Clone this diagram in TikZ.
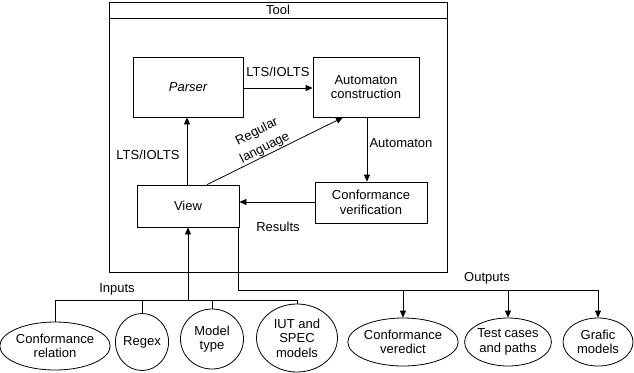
\documentclass[tikz,border=0pt]{standalone}
\usepackage{fontspec}
\setmainfont{Liberation Sans}
\usetikzlibrary{shapes.geometric,arrows.meta}
\begin{document}
\begin{tikzpicture}[x=1pt,y=-1pt,
  every node/.style={font=\fontsize{13}{14.5}\selectfont, inner sep=0pt},
  box/.style={draw, line width=0.8pt, align=center},
  oval/.style={draw, ellipse, line width=0.8pt, align=center},
  line/.style={line width=0.8pt},
  arr/.style={line width=0.8pt, -{Triangle[length=7pt,width=6pt]}},
  lbl/.style={align=center}]
\useasboundingbox (0,0) rectangle (634,372);
% Tool frame
\draw[line] (109,2) rectangle (447,272);
\draw[line] (109,18) -- (447,18);
\node[lbl] (tool) at (278,10) {Tool};
% boxes
\node[box, minimum width=110pt, minimum height=60pt] (parser) at (188,87) {\itshape Parser};
\node[box, minimum width=106pt, minimum height=60pt] (auto) at (366,87) {Automaton\\construction};
\node[box, minimum width=102pt, minimum height=42pt] (view) at (188,206) {View};
\node[box, minimum width=112pt, minimum height=41pt] (conf) at (371,202.5) {Conformance\\verification};
% arrows
\draw[arr] (parser.east |- 0,88) -- (auto.west |- 0,88);
\node[lbl] (l1) at (278,72) {LTS/IOLTS};
\draw[arr] (view.north -| 187,0) -- (parser.south -| 187,0);
\node[lbl] (l2) at (148,155) {LTS/IOLTS};
\draw[arr] (view.north -| 207,0) -- (auto.south -| 343,0);
\node[lbl, rotate=27] (l3a) at (257,132) {Regular};
\node[lbl, rotate=27] (l3b) at (265,148) {language};
\draw[arr] (auto.south -| 367,0) -- (conf.north -| 367,0);
\node[lbl] (l4) at (401,143) {Automaton};
\draw[arr] (conf.west |- 0,202) -- (view.east |- 0,202);
\node[lbl] (l5) at (278,227) {Results};
% inputs
\node[oval, minimum width=90pt, minimum height=48pt] (i1) at (55,346) {Conformance\\relation};
\node[oval, minimum width=53pt, minimum height=57pt] (i2) at (142,342) {Regex};
\node[oval, minimum width=63pt, minimum height=60pt] (i3) at (212,339) {Model\\type};
\node[oval, minimum width=81pt, minimum height=68pt] (i4) at (297,338) {IUT and\\SPEC\\models};
\coordinate (hub) at (188,300);
\draw[line] (i1.north) -- (i1.north |- hub) -- (i4.north |- hub) -- (i4.north);
\draw[line] (i2.north) -- (i2.north |- hub);
\draw[line] (i3.north) -- (i3.north |- hub);
\draw[arr] (hub) -- (view.south -| hub);
\node[lbl] (inp) at (117,289) {Inputs};
% outputs
\node[oval, minimum width=88pt, minimum height=48pt] (o1) at (403,342) {Conformance\\veredict};
\node[oval, minimum width=77pt, minimum height=48pt] (o2) at (508,342) {Test cases\\and paths};
\node[oval, minimum width=70pt, minimum height=48pt] (o3) at (598,342) {Grafic\\models};
\coordinate (ohub) at (238,290);
\draw[line] (view.south -| ohub) -- (ohub) -- (o3.north |- ohub);
\draw[arr] (o1.north |- ohub) -- (o1.north);
\draw[arr] (o2.north |- ohub) -- (o2.north);
\draw[arr] (o3.north |- ohub) -- (o3.north);
\node[lbl] (outp) at (487,278) {Outputs};
\end{tikzpicture}
\end{document}
